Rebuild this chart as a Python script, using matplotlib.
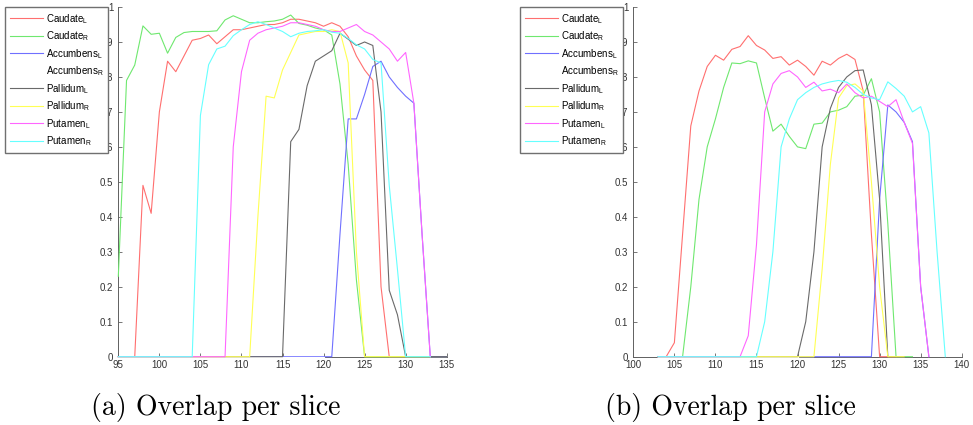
import numpy as np
import matplotlib
matplotlib.use('Agg')
import matplotlib.pyplot as plt

plt.rcParams['font.family'] = ['Liberation Sans', 'DejaVu Sans']
plt.rcParams['mathtext.default'] = 'regular'

labels = ['Caudate$_L$', 'Caudate$_R$', 'Accumbens$_L$', 'Accumbens$_R$',
          'Pallidum$_L$', 'Pallidum$_R$', 'Putamen$_L$', 'Putamen$_R$']
colors = ['#ff6f6f', '#6fe86f', '#7070ff', '#ffffff',
          '#6a6a6a', '#ffff55', '#ff66ff', '#66ffff']

# (a) overlap per slice, first slice of each series and its values
caud_l_a = (95, [0, 0, 0, 0.49, 0.41, 0.70, 0.845, 0.815, 0.86, 0.905, 0.91, 0.92,
                 0.895, 0.915, 0.935, 0.935, 0.94, 0.945, 0.95, 0.95, 0.955, 0.965,
                 0.965, 0.96, 0.955, 0.945, 0.955, 0.945, 0.915, 0.86, 0.82, 0.79,
                 0.2, 0, 0, 0, 0, 0, 0, 0, 0])
caud_r_a = (95, [0.23, 0.79, 0.834, 0.946, 0.922, 0.925, 0.868, 0.913, 0.927, 0.93,
                 0.93, 0.93, 0.932, 0.963, 0.975, 0.965, 0.955, 0.955, 0.958, 0.96,
                 0.965, 0.977, 0.953, 0.948, 0.94, 0.935, 0.92, 0.78, 0.55, 0.22,
                 0, 0, 0, 0, 0, 0, 0, 0, 0, 0, 0])
acc_l_a = (95, [0] * 27 + [0.35, 0.68, 0.68, 0.75, 0.83, 0.845, 0.80, 0.77, 0.745,
                           0.725, 0.35, 0, 0, 0])
acc_r_a = (95, [0] * 26)
pal_l_a = (95, [0] * 21 + [0.615, 0.65, 0.775, 0.845, 0.86, 0.875, 0.925, 0.908,
                           0.89, 0.9, 0.89, 0.7, 0.19, 0.12, 0, 0, 0, 0, 0, 0])
pal_r_a = (95, [0] * 17 + [0.4, 0.745, 0.74, 0.82, 0.87, 0.92, 0.925, 0.93, 0.93,
                           0.935, 0.93, 0.84, 0.3, 0, 0, 0, 0, 0, 0, 0, 0, 0])
put_l_a = (95, [0] * 14 + [0.6, 0.815, 0.905, 0.925, 0.935, 0.94, 0.945, 0.955,
                           0.955, 0.95, 0.945, 0.935, 0.93, 0.93, 0.94, 0.95, 0.93,
                           0.92, 0.9, 0.88, 0.845, 0.87, 0.725, 0.35, 0])
put_r_a = (95, [0] * 10 + [0.69, 0.835, 0.88, 0.888, 0.918, 0.935, 0.95, 0.958,
                           0.95, 0.94, 0.93, 0.915, 0.925, 0.93, 0.932, 0.935,
                           0.928, 0.925, 0.91, 0.892, 0.88, 0.85, 0.84, 0.49, 0.25,
                           0, 0, 0, 0])

# (b) overlap per slice
caud_l_b = (103, [0, 0, 0.04, 0.35, 0.66, 0.76, 0.83, 0.862, 0.848, 0.879, 0.887,
                  0.918, 0.89, 0.877, 0.853, 0.858, 0.834, 0.848, 0.83, 0.805,
                  0.845, 0.834, 0.853, 0.865, 0.85, 0.76, 0.35, 0, 0, 0])
caud_r_b = (103, [0, 0, 0, 0, 0.2, 0.45, 0.6, 0.68, 0.77, 0.84, 0.838, 0.846, 0.84,
                  0.74, 0.645, 0.665, 0.63, 0.6, 0.595, 0.665, 0.668, 0.7, 0.705,
                  0.715, 0.745, 0.748, 0.795, 0.7, 0.38, 0, 0, 0])
acc_l_b = (103, [0] * 27 + [0.45, 0.72, 0.7, 0.67, 0.615, 0.2, 0])
acc_r_b = (103, [0] * 18)
pal_l_b = (103, [0] * 18 + [0.1, 0.3, 0.6, 0.71, 0.77, 0.8, 0.818, 0.82, 0.72,
                            0.45, 0, 0, 0])
pal_r_b = (103, [0] * 20 + [0.25, 0.55, 0.74, 0.775, 0.78, 0.76, 0.5, 0.2, 0, 0, 0])
put_l_b = (103, [0] * 11 + [0.06, 0.32, 0.7, 0.78, 0.81, 0.818, 0.8, 0.77, 0.785,
                            0.76, 0.765, 0.755, 0.78, 0.755, 0.74, 0.745, 0.73,
                            0.715, 0.735, 0.67, 0.61, 0.2, 0])
put_r_b = (103, [0] * 13 + [0.1, 0.3, 0.6, 0.68, 0.735, 0.755, 0.77, 0.78, 0.786,
                            0.79, 0.785, 0.77, 0.75, 0.74, 0.735, 0.786, 0.767,
                            0.745, 0.7, 0.715, 0.64, 0.3, 0])

panels = [
    ([caud_l_a, caud_r_a, acc_l_a, acc_r_a, pal_l_a, pal_r_a, put_l_a, put_r_a],
     (95, 135), '(a) Overlap per slice'),
    ([caud_l_b, caud_r_b, acc_l_b, acc_r_b, pal_l_b, pal_r_b, put_l_b, put_r_b],
     (100, 140), '(b) Overlap per slice'),
]

fig = plt.figure(figsize=(9.73, 4.25), dpi=100)
ax_left = [0.1216, 0.6509]
leg_left = [5 / 973, 520 / 973]

for i, (series, xlim, caption) in enumerate(panels):
    ax = fig.add_axes([ax_left[i], 0.1607, 0.3375, 0.8228])
    handles = []
    for (start, vals), lab, col in zip(series, labels, colors):
        xs = np.arange(start, start + len(vals))
        h, = ax.plot(xs, vals, color=col, lw=0.8, label=lab, zorder=3, clip_on=False)
        handles.append(h)
    ax.set_xlim(*xlim)
    ax.set_ylim(0, 1)
    ax.set_xticks(np.arange(xlim[0], xlim[1] + 1, 5))
    ax.set_yticks(np.arange(0, 1.01, 0.1))
    ax.set_yticklabels(['0', '0.1', '0.2', '0.3', '0.4', '0.5',
                        '0.6', '0.7', '0.8', '0.9', '1'])
    for s in ['top', 'right']:
        ax.spines[s].set_visible(False)
    for s in ['left', 'bottom']:
        ax.spines[s].set_color('#606060')
        ax.spines[s].set_linewidth(0.7)
    ax.tick_params(direction='in', length=3, width=0.6, labelsize=7,
                   colors='#606060', labelcolor='#333333')
    ax.tick_params(axis='y', pad=3.5)
    ax.tick_params(axis='x', pad=2.5)

    # legend box sits over the "0." of the upper y labels, as in the original
    fig.legend(handles=handles, loc='upper left',
               bbox_to_anchor=(leg_left[i], 1 - 7 / 425), borderaxespad=0,
               fontsize=7, handlelength=3.4, handletextpad=0.3,
               labelspacing=0.38, borderpad=0.5, fancybox=False,
               framealpha=1, edgecolor='#707070')

    fig.text(ax_left[i] + 0.1, 0.04, caption, family='cmr10', fontsize=20,
             ha='center', va='center')

fig.savefig('out.png', dpi=100)
